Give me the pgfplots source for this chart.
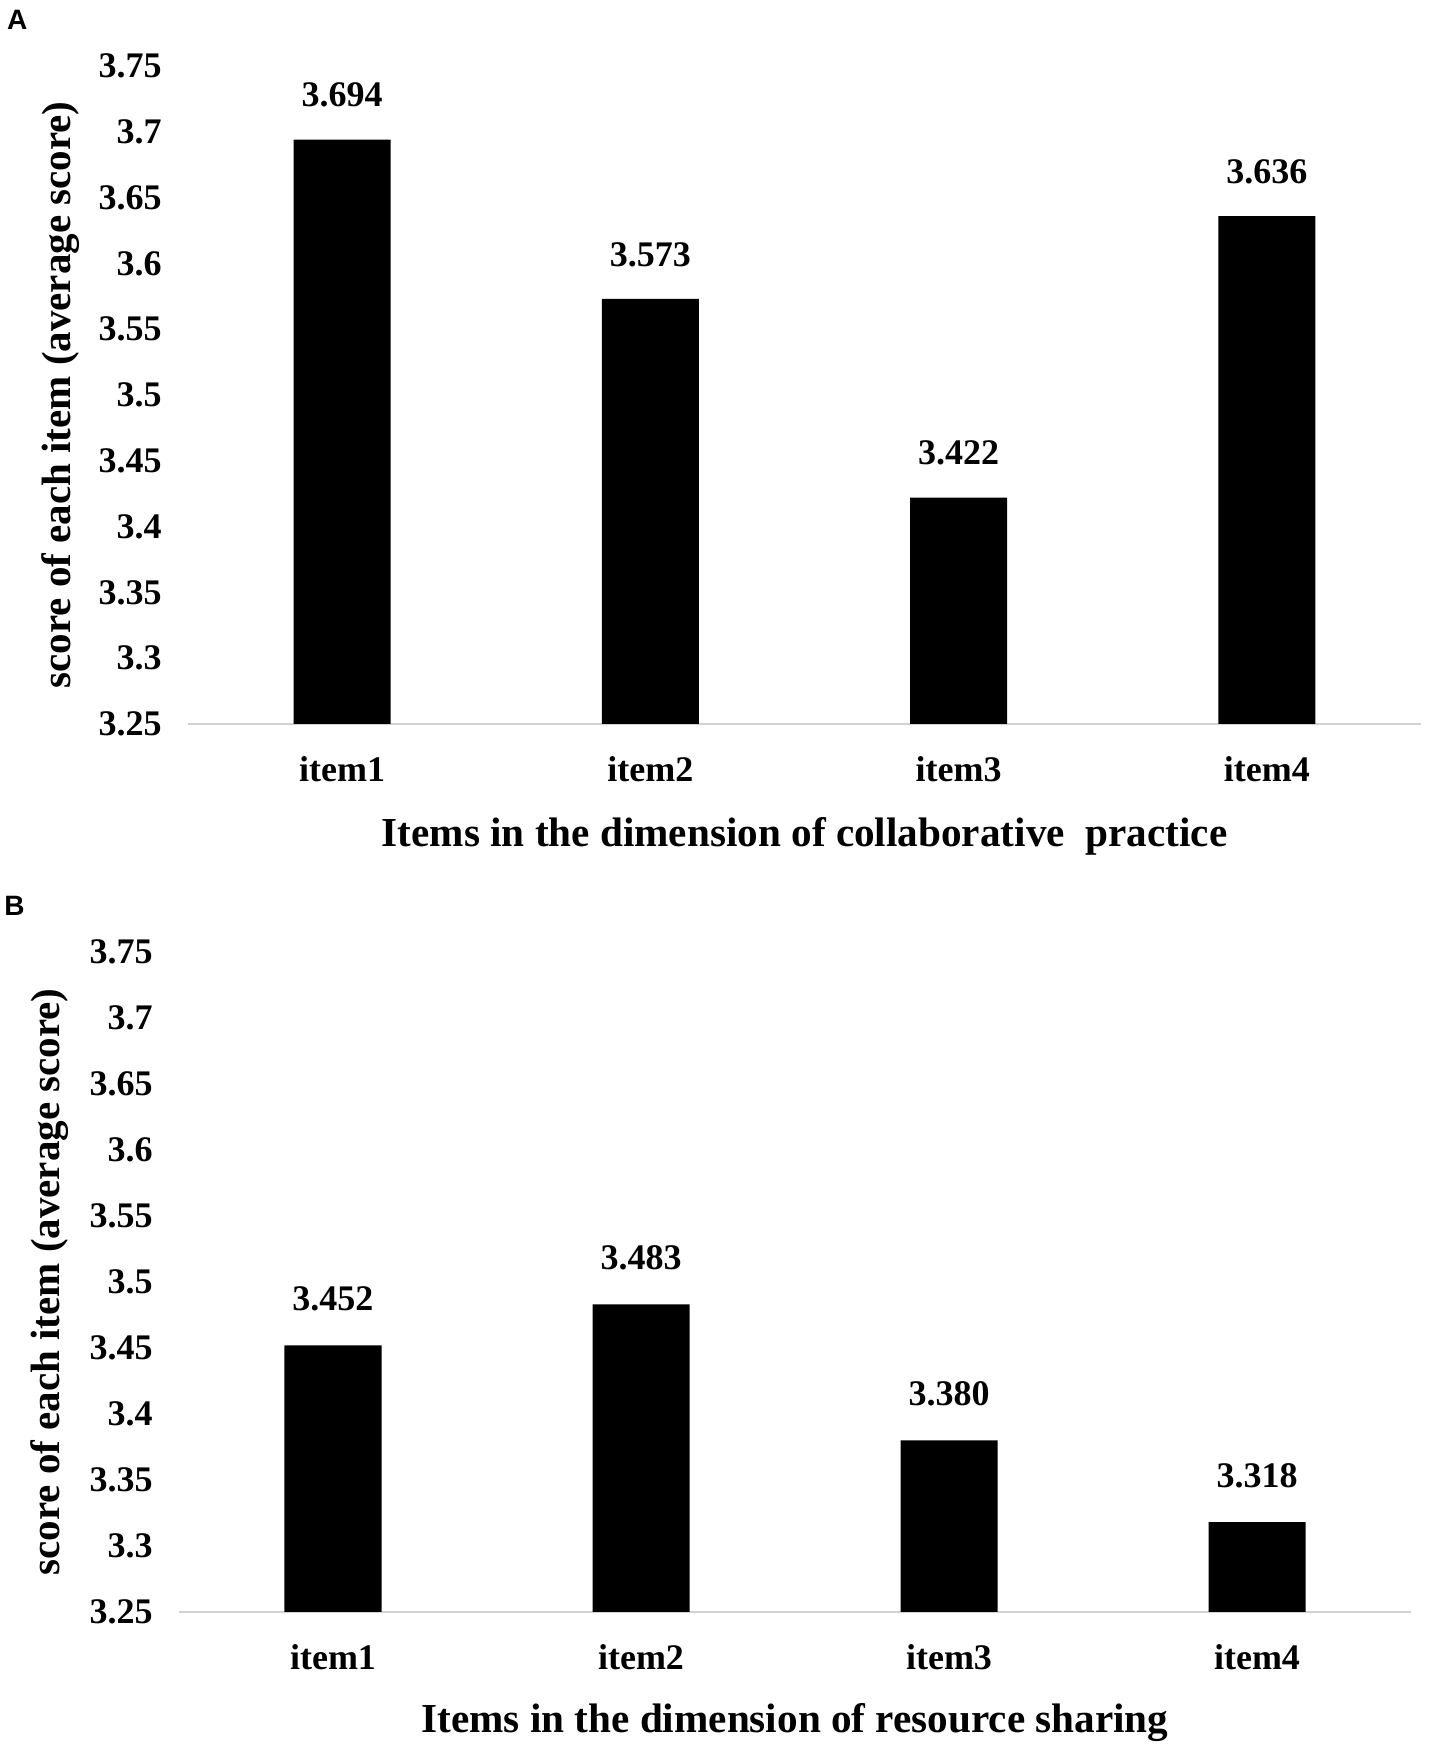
\documentclass[border=0pt]{standalone}
\usepackage{fontspec}
\setmainfont{Liberation Serif}
\newfontfamily\arialfont{Liberation Sans}
\usepackage{pgfplots}
\pgfplotsset{compat=1.18}
\definecolor{axisgray}{RGB}{210,210,210}

\pgfplotsset{
  mybar/.style={
    scale only axis, anchor=south west,
    ybar, bar width=48.5pt,
    xmin=-0.5, xmax=3.5, ymin=3.25, ymax=3.75,
    xtick={0,1,2,3}, xticklabels={item1,item2,item3,item4},
    ytick={3.25,3.30,3.35,3.40,3.45,3.50,3.55,3.60,3.65,3.70,3.75},
    yticklabels={3.25,3.3,3.35,3.4,3.45,3.5,3.55,3.6,3.65,3.7,3.75},
    axis x line*=bottom, axis y line*=left,
    x axis line style={-, draw=axisgray, line width=1.3pt},
    y axis line style={draw=none},
    major tick length=0pt,
    tick style={draw=none},
    ticklabel style={font=\fontsize{18}{20}\selectfont\bfseries, inner sep=0pt},
    yticklabel style={anchor=east, xshift=-13pt},
    xticklabel style={anchor=base, yshift=-29pt},
    ylabel={score of each item (average score)},
    nodes near coords,
    point meta=explicit symbolic,
    every node near coord/.append style={font=\fontsize{18}{20}\selectfont\bfseries, inner sep=0pt, anchor=south},
  }
}

\begin{document}
\begin{tikzpicture}
\path[use as bounding box] (0pt,0pt) rectangle (714.5pt,875.5pt);

\node[anchor=west, inner sep=0pt, font=\arialfont\bfseries\fontsize{14}{16}\selectfont] at (3.3pt,865.5pt) {A};
\node[anchor=west, inner sep=0pt, font=\arialfont\bfseries\fontsize{14}{16}\selectfont] at (2.0pt,422.5pt) {B};

% Panel A
\begin{axis}[mybar,
  at={(94pt,513.5pt)}, width=616.5pt, height=329pt,
  every node near coord/.append style={yshift=16pt},
  xlabel={Items in the dimension of collaborative\ \ practice},
  xlabel style={font=\fontsize{20.6}{23}\selectfont\bfseries, at={([yshift=-61.5pt]axis description cs:0.5,0)}, anchor=base},
  ylabel style={font=\fontsize{20.5}{23}\selectfont\bfseries, at={([xshift=-63.75pt]axis description cs:0,0.5)}, anchor=center},
]
\addplot[fill=black, draw=none] coordinates {
  (0,3.694) [3.694]
  (1,3.573) [3.573]
  (2,3.422) [3.422]
  (3,3.636) [3.636]
};
\end{axis}

% Panel B
\begin{axis}[mybar,
  at={(89.5pt,69.5pt)}, width=616pt, height=330pt,
  every node near coord/.append style={yshift=17pt},
  xlabel={Items in the dimension of resource sharing},
  xlabel style={font=\fontsize{20.6}{23}\selectfont\bfseries, at={([yshift=-60pt]axis description cs:0.5,0)}, anchor=base},
  ylabel style={font=\fontsize{20.5}{23}\selectfont\bfseries, at={([xshift=-64.5pt]axis description cs:0,0.5)}, anchor=center},
]
\addplot[fill=black, draw=none] coordinates {
  (0,3.452) [3.452]
  (1,3.483) [3.483]
  (2,3.380) [3.380]
  (3,3.318) [3.318]
};
\end{axis}
\end{tikzpicture}
\end{document}
